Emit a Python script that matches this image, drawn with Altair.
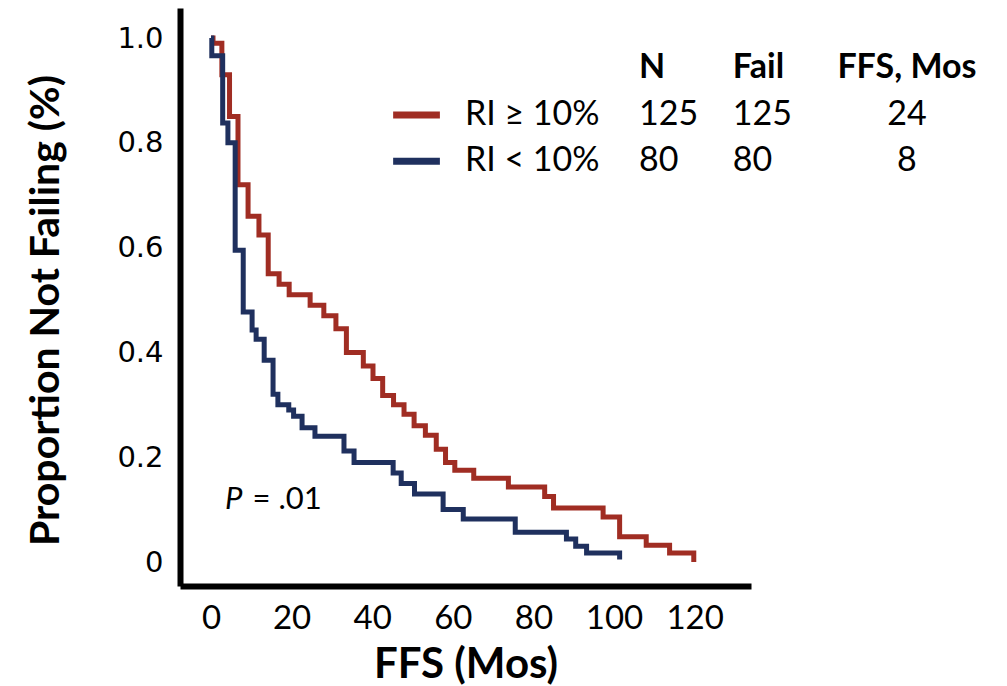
import altair as alt
import pandas as pd

# ---- data (Kaplan-Meier style step curves) ----
groups = ["RI \u2265 10%", "RI < 10%"]
colors = ["#A02D23", "#1F305E"]

red_t = [0, 0.5, 2.7, 4.6, 6.7, 9.2, 11.9, 14.2, 16.9, 19.4, 24.6, 28.0, 31.0,
         33.6, 37.8, 40.2, 42.6, 45.3, 47.9, 50.4, 53.2, 55.9, 58.2, 60.5,
         65.2, 73.8, 82.8, 85.0, 97.3, 101.4, 108.0, 113.8, 119.8]
red_s = [1.0, 0.99, 0.93, 0.85, 0.72, 0.66, 0.624, 0.55, 0.53, 0.51, 0.49, 0.47,
         0.445, 0.40, 0.374, 0.35, 0.318, 0.30, 0.282, 0.26, 0.242, 0.215, 0.19,
         0.175, 0.16, 0.143, 0.125, 0.103, 0.086, 0.048, 0.032, 0.017, 0.0]

blue_t = [0, 0.2, 2.9, 4.2, 6.0, 8.0, 10.2, 11.2, 13.2, 15.4, 16.6, 19.3, 20.5,
          22.6, 25.8, 33.0, 35.5, 45.2, 47.2, 50.5, 57.6, 62.6, 75.5, 88.2,
          90.5, 93.2, 101.4]
blue_s = [1.0, 0.966, 0.838, 0.80, 0.595, 0.477, 0.443, 0.425, 0.385, 0.32, 0.30,
          0.29, 0.278, 0.256, 0.24, 0.212, 0.19, 0.17, 0.15, 0.13, 0.10, 0.082,
          0.057, 0.044, 0.03, 0.017, 0.005]

x_ticks = [0, 20, 40, 60, 80, 100, 120]
y_ticks = [0, 0.2, 0.4, 0.6, 0.8, 1.0]

# legend / table text
header_left = ["N", "Fail"]
header_center = ["FFS, Mos"]
row_labels = groups
n_vals = ["125", "80"]
fail_vals = ["125", "80"]
ffs_vals = ["24", "8"]

# annotation anchor positions in data units
col_label_x = 63.0
col_n_x = 106.2
col_fail_x = 129.5
col_ffs_x = 172.7
header_y = 0.943
row_y = [0.853, 0.765]
swatch_x = [45.2, 56.8]
p_y = 0.118
p_x = [3.5, 10.3]

curves = pd.concat([
    pd.DataFrame({"t": red_t, "s": red_s, "group": groups[0]}),
    pd.DataFrame({"t": blue_t, "s": blue_s, "group": groups[1]}),
], ignore_index=True)

xscale = alt.Scale(domain=[-7.69, 134.0], nice=False, zero=False)
yscale = alt.Scale(domain=[-0.0458, 1.0573], nice=False, zero=False)
cscale = alt.Scale(domain=groups, range=colors)

x_axis = alt.Axis(values=x_ticks, format="d", labelFont="Lato", labelFontSize=33,
                  labelColor="black", ticks=False, tickSize=0, labelPadding=16,
                  labelFlush=False, labelOverlap=False,
                  domainColor="black", domainWidth=6, grid=False,
                  title="FFS (Mos)", titleFont="Lato", titleFontSize=42,
                  titleFontWeight="bold", titleColor="black",
                  titleY=58, titleBaseline="top")
y_axis = alt.Axis(values=y_ticks,
                  labelExpr="datum.value == 0 ? '0' : format(datum.value, '.1f')",
                  labelFont="DejaVu Sans", labelFontSize=29, labelColor="black",
                  ticks=False, tickSize=0, labelPadding=17, labelOverlap=False,
                  domainColor="black", domainWidth=6, grid=False,
                  title="Proportion Not Failing (%)", titleFont="Lato",
                  titleFontSize=41, titleFontWeight="bold", titleColor="black",
                  titleX=-134, titleY=302, titleAlign="center",
                  titleBaseline="middle")

lines = alt.Chart(curves).mark_line(interpolate="step-after", strokeWidth=5,
                                     strokeCap="butt", strokeJoin="miter").encode(
    x=alt.X("t:Q", scale=xscale, axis=x_axis),
    y=alt.Y("s:Q", scale=yscale, axis=y_axis),
    color=alt.Color("group:N", scale=cscale, legend=None),
    detail="group:N",
)

sw = pd.DataFrame({"x": [swatch_x[0]] * 2, "x2": [swatch_x[1]] * 2,
                   "y": row_y, "group": groups})
swatches = alt.Chart(sw).mark_rule(strokeWidth=7, strokeCap="butt").encode(
    x=alt.X("x:Q", scale=xscale), x2="x2:Q",
    y=alt.Y("y:Q", scale=yscale),
    color=alt.Color("group:N", scale=cscale, legend=None),
)

hl = pd.DataFrame({"x": [col_n_x, col_fail_x], "y": [header_y] * 2, "text": header_left})
hc = pd.DataFrame({"x": [col_ffs_x], "y": [header_y], "text": header_center})
rl = pd.DataFrame({
    "x": [col_label_x, col_n_x, col_fail_x] * 2,
    "y": [row_y[0]] * 3 + [row_y[1]] * 3,
    "text": [row_labels[0], n_vals[0], fail_vals[0], row_labels[1], n_vals[1], fail_vals[1]],
})
rc = pd.DataFrame({"x": [col_ffs_x] * 2, "y": row_y, "text": ffs_vals})

def txt(df, align, size, weight="normal", style="normal"):
    return alt.Chart(df).mark_text(align=align, baseline="middle", font="Lato",
                                   fontSize=size, fontWeight=weight, fontStyle=style,
                                   color="black").encode(
        x=alt.X("x:Q", scale=xscale), y=alt.Y("y:Q", scale=yscale), text="text:N")

p1 = pd.DataFrame({"x": [p_x[0]], "y": [p_y], "text": ["P"]})
p2 = pd.DataFrame({"x": [p_x[1]], "y": [p_y], "text": ["= .01"]})

chart = alt.layer(
    lines, swatches,
    txt(hl, "left", 34, "bold"), txt(hc, "center", 34, "bold"),
    txt(rl, "left", 34), txt(rc, "center", 34),
    txt(p1, "left", 31, style="italic"), txt(p2, "left", 31),
).properties(
    width=571, height=578,
    autosize=alt.AutoSizeParams(type="none"),
    padding={"left": 180, "top": 8, "right": 256, "bottom": 100},
    background="white",
).configure_view(stroke=None)

chart.save("out.html", embed_options={"renderer": "svg", "actions": False})
